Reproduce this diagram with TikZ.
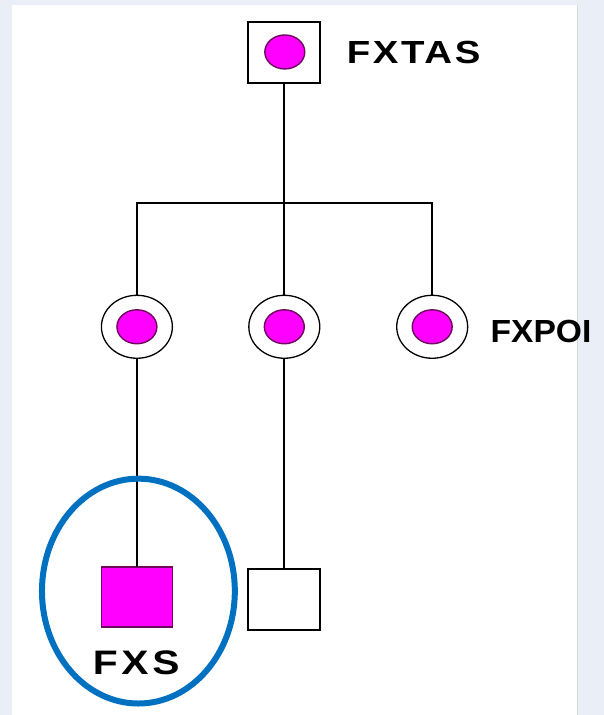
\documentclass[tikz,border=0pt]{standalone}
\usepackage{fontspec}
\setmainfont{Liberation Sans}
\usetikzlibrary{shapes.geometric}
\definecolor{bgblue}{HTML}{E9EEF7}
\definecolor{paneledge}{HTML}{D4D9E2}
\definecolor{affected}{HTML}{FF00FF}
\definecolor{affectededge}{HTML}{6E0A5E}
\definecolor{ringblue}{HTML}{0070C0}
\begin{document}
\begin{tikzpicture}[x=1pt,y=-1pt,
  every node/.style={inner sep=0pt, outer sep=0pt},
  link/.style={draw=black, line width=2pt},
  malebox/.style={rectangle, draw=black, line width=1.8pt, fill=white,
    minimum width=72pt, minimum height=61pt},
  femaleaff/.style={ellipse, fill=affected, draw=affectededge, line width=1.4pt,
    minimum width=40pt, minimum height=34pt},
  carrier/.style={ellipse, draw=black, line width=1.3pt, fill=white,
    minimum width=71pt, minimum height=63pt},
  maleaff/.style={rectangle, fill=affected, draw=affectededge, line width=1.6pt,
    minimum width=71pt, minimum height=60pt},
  label/.style={font=\bfseries\fontsize{32}{32}\selectfont, anchor=west}
]
% background and white panel
\fill[bgblue] (0,0) rectangle (604,715);
\fill[white] (12,5) rectangle (578,715);
\draw[paneledge, line width=1pt] (578,5) -- (578,715);

% grandfather
\node[malebox] (gf) at (284.5,52.5) {};
\node[femaleaff] (gfdot) at (285,52) {};
\node[label, xscale=1.2] (fxtas) at (347,53)
  {\addfontfeature{LetterSpace=7}FXTAS};

% sibship line
\coordinate (junc) at (284.5,203);

% daughters (carriers)
\node[carrier] (d1) at (137,327) {};
\node[femaleaff] (d1dot) at (137,327) {};
\node[carrier] (d2) at (284.5,327) {};
\node[femaleaff] (d2dot) at (284.5,327) {};
\node[carrier] (d3) at (432.5,327) {};
\node[femaleaff] (d3dot) at (432.5,327) {};
\node[label, xscale=1.05] (fxpoi) at (491,331.5) {FXPOI};

% grandsons
\node[maleaff] (s1) at (137,597.5) {};
\node[malebox] (s2) at (284.5,600) {};
\node[font=\bfseries\fontsize{34}{34}\selectfont, anchor=west, xscale=1.2] (fxs) at (93,663)
  {\addfontfeature{LetterSpace=9}FXS};

% connectors
\draw[link] (gf.south) -- (junc);
\draw[link] (d1.north) |- (junc) -| (d3.north);
\draw[link] (junc) -- (d2.north);
\draw[link] (d1.south) -- (s1.north);
\draw[link] (d2.south) -- (s2.north);

% highlight ring
\draw[ringblue, line width=6pt] (138.5,591.5) ellipse [x radius=96.5, y radius=112.5];
\end{tikzpicture}
\end{document}
